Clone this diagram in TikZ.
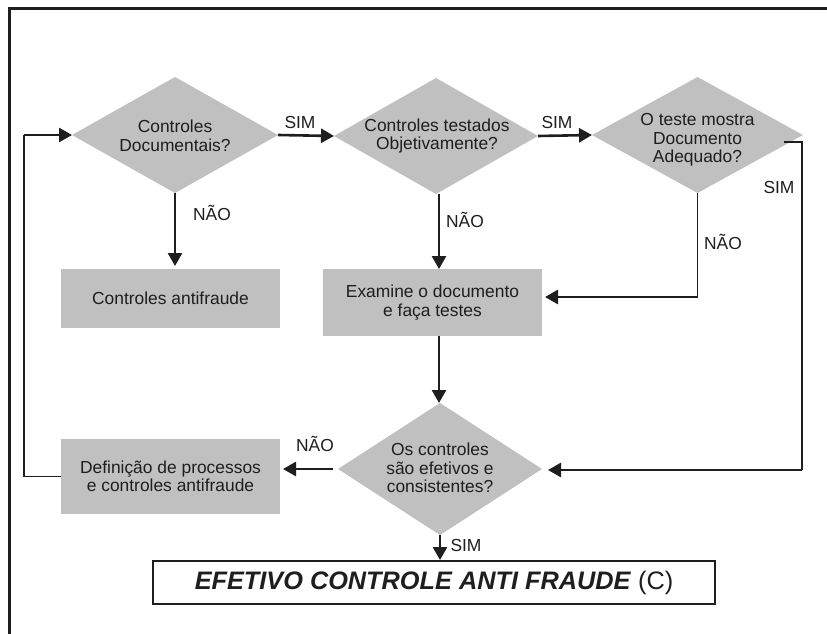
\documentclass[tikz,border=0pt]{standalone}
\usepackage{fontspec}
\setmainfont{Liberation Sans}
\usetikzlibrary{shapes.geometric,arrows.meta,calc}
\definecolor{boxgray}{RGB}{192,192,192}
\definecolor{ink}{RGB}{30,30,30}

\begin{document}
\begin{tikzpicture}[x=1pt,y=-1pt,
  every node/.style={font=\fontsize{17.4}{18.5}\selectfont, text=ink},
  decision/.style={diamond, fill=boxgray, draw=none, inner sep=0pt, outer sep=0pt},
  dtext/.style={align=center, inner sep=0pt},
  action/.style={rectangle, fill=boxgray, draw=none, inner sep=0pt, outer sep=0pt, align=center},
  tip/.style={-{Triangle[length=13pt,width=14pt]}},
  flow/.style={draw=ink, line width=2.6pt},
  thinline/.style={draw=ink, line width=1.6pt},
  answer/.style={inner sep=0pt}
]
\useasboundingbox (0,0) rectangle (827,634);

% outer frame (top and left edges)
\draw[ink, line width=3pt] (9,634) -- (9,9) -- (827,9);

% decisions
\node[decision, minimum width=206pt, minimum height=116pt] (d1) at (175,135) {};
\node[dtext] (d1t) at (175,136) {Controles\\Documentais?};
\node[decision, minimum width=204pt, minimum height=116pt] (d2) at (436,136) {};
\node[dtext] (d2t) at (437,136) {Controles testados\\Objetivamente?};
\node[decision, minimum width=211pt, minimum height=116pt] (d3) at (697.5,135) {};
\node[dtext] (d3t) at (697.5,140) {O teste mostra\\Documento\\Adequado?};
\node[decision, minimum width=204pt, minimum height=132pt] (d4) at (440,469) {};
\node[dtext] (d4t) at (440,468) {Os controles\\são efetivos e\\consistentes?};

% actions
\node[action, minimum width=219pt, minimum height=59pt] (c1) at (170.5,298.5) {Controles antifraude};
\node[action, minimum width=219pt, minimum height=67pt] (ex) at (432.5,302.5) {Examine o documento\\e faça testes};
\node[action, minimum width=219pt, minimum height=75pt] (def) at (170.5,476.5) {Definição de processos\\e controles antifraude};

% result
\node[draw=ink, line width=2pt, minimum width=562pt, minimum height=43pt, inner sep=0pt,
      font=\fontsize{25.3}{29}\selectfont] (res) at (434,582.5)
      {\textbf{\textit{EFETIVO CONTROLE ANTI FRAUDE}} (C)};

% helper points for the loop-backs
\coordinate (lp) at (24,135);
\coordinate (s3) at (784,142);
\coordinate (rp) at (802,142);
\coordinate (rq) at (802,470);
\coordinate (dq) at (697.5,297);

% connectors
\draw[flow, tip] (d1.east) -- (d2.west);
\draw[flow, tip] (d2.east) -- (d3.west);
\draw[flow, tip, shorten >=3pt] (d1.south) -- (d1.south |- c1.north);
\draw[flow, tip] (d2.south -| 439,0) -- (439,269);
\draw[thinline] (d3.south) -- (dq);
\draw[flow, tip, shorten >=3pt] (dq) -- (dq -| ex.east);
\draw[flow, tip] (ex.south -| 439,0) -- (d4.north -| 439,0);
\draw[thinline] (s3) -- (rp) -- (rq);
\draw[flow, tip, shorten >=6pt] (rq) -- (rq -| d4.east);
\draw[flow, tip, shorten <=5pt, shorten >=3pt] (d4.west) -- (d4.west -| def.east);
\draw[thinline] (def.west) -| (lp);
\draw[flow, tip] (lp) -- (d1.west);
\draw[flow, tip] (d4.south) -- (d4.south |- res.north);

% answer labels
\node[answer] (l1) at (300,123) {SIM};
\node[answer] (l2) at (557,123) {SIM};
\node[answer] (l3) at (779,188) {SIM};
\node[answer] (l4) at (212,213) {NÃO};
\node[answer] (l5) at (465,220) {NÃO};
\node[answer] (l6) at (723,242) {NÃO};
\node[answer] (l7) at (315,444) {NÃO};
\node[answer] (l8) at (466,546) {SIM};
\end{tikzpicture}
\end{document}
